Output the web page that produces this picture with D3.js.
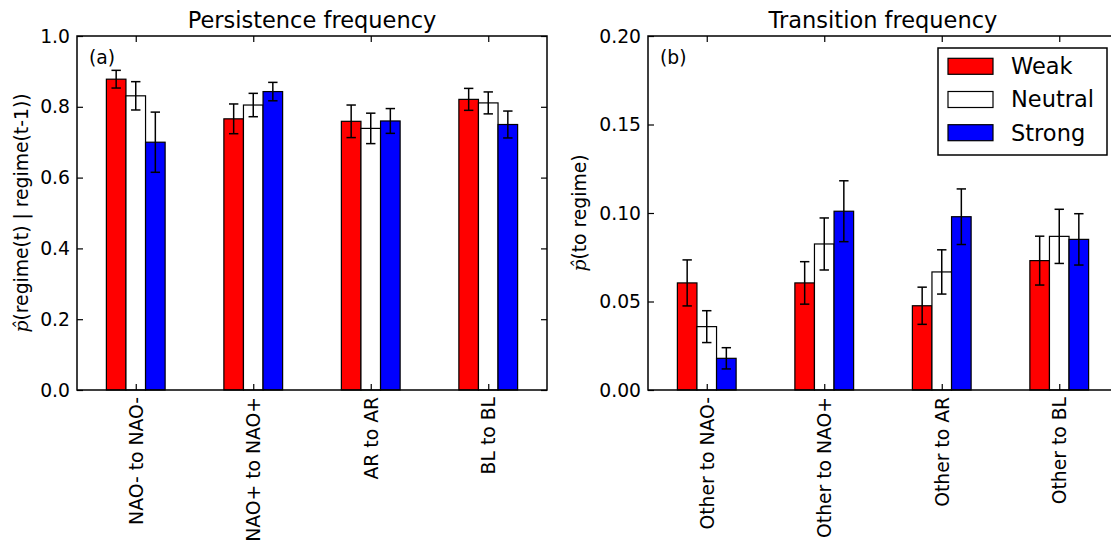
<!DOCTYPE html>
<html>
<head>
<meta charset="utf-8">
<script src="https://cdn.jsdelivr.net/npm/d3@7"></script>
<style>
  html, body { margin: 0; padding: 0; background: #fff; }
  svg { display: block; font-family: 'DejaVu Sans', sans-serif; }
</style>
</head>
<body>
<svg id="chart" width="1111" height="544"></svg>
<script>
// categories
const persistCategories = ['NAO- to NAO-', 'NAO+ to NAO+', 'AR to AR', 'BL to BL']
const transCategories = ['Other to NAO-', 'Other to NAO+', 'Other to AR', 'Other to BL']
const seriesNames = ['Weak', 'Neutral', 'Strong']
const seriesColors = ['#ff0000', '#ffffff', '#0000ff']

// persistence values and error half-widths
const persistWeak = [0.878, 0.766, 0.759, 0.821]
const persistWeakErr = [0.025, 0.042, 0.046, 0.031]
const persistNeutral = [0.831, 0.805, 0.739, 0.811]
const persistNeutralErr = [0.040, 0.033, 0.043, 0.031]
const persistStrong = [0.700, 0.843, 0.760, 0.750]
const persistStrongErr = [0.085, 0.026, 0.035, 0.038]

// transition values and error half-widths
const transWeak = [0.0605, 0.0605, 0.0476, 0.0731]
const transWeakErr = [0.013, 0.012, 0.0105, 0.0138]
const transNeutral = [0.0358, 0.0825, 0.0667, 0.0868]
const transNeutralErr = [0.009, 0.0147, 0.0125, 0.0153]
const transStrong = [0.0179, 0.101, 0.0979, 0.0851]
const transStrongErr = [0.006, 0.0172, 0.0157, 0.0145]

// tick values
const persistTicks = [0.0, 0.2, 0.4, 0.6, 0.8, 1.0]
const transTicks = [0.00, 0.05, 0.10, 0.15, 0.20]

const svg = d3.select('#chart')
const yTop = 36, yBottom = 390
const tickFont = 18.75
const bigFont = 22.5

function panel(opts) {
  const { left, right, categories, values, errors, yMax, ticks, fmt, title, tag, ylabel, ylabelX } = opts
  const x = d3.scaleLinear().domain([-0.5, 3.5]).range([left, right])
  const y = d3.scaleLinear().domain([0, yMax]).range([yBottom, yTop])
  const barW = 1 / 6

  const g = svg.append('g')

  // bars
  seriesNames.forEach((name, j) => {
    const rows = values[j].map((v, i) => ({ i, v, e: errors[j][i] }))
    g.append('g')
      .selectAll('rect')
      .data(rows)
      .join('rect')
      .attr('x', (d) => x(d.i - 0.25 + j * barW))
      .attr('y', (d) => y(d.v))
      .attr('width', (d) => x(d.i - 0.25 + (j + 1) * barW) - x(d.i - 0.25 + j * barW))
      .attr('height', (d) => y(0) - y(d.v))
      .attr('fill', seriesColors[j])
      .attr('stroke', '#000')
      .attr('stroke-width', 1.2)

    const eb = g.append('g').attr('stroke', '#000').attr('stroke-width', 1.5)
    eb.selectAll('line.v')
      .data(rows)
      .join('line')
      .attr('class', 'v')
      .attr('x1', (d) => x(d.i - 0.25 + (j + 0.5) * barW))
      .attr('x2', (d) => x(d.i - 0.25 + (j + 0.5) * barW))
      .attr('y1', (d) => y(d.v - d.e))
      .attr('y2', (d) => y(d.v + d.e))
    ;[-1, 1].forEach((s) => {
      eb.selectAll('line.c' + (s + 1))
        .data(rows)
        .join('line')
        .attr('class', 'c' + (s + 1))
        .attr('x1', (d) => x(d.i - 0.25 + (j + 0.5) * barW) - 4.7)
        .attr('x2', (d) => x(d.i - 0.25 + (j + 0.5) * barW) + 4.7)
        .attr('y1', (d) => y(d.v + s * d.e))
        .attr('y2', (d) => y(d.v + s * d.e))
    })
  })

  const styleAxis = (a) => {
    a.select('.domain').remove()
    a.selectAll('line').attr('stroke', '#000').attr('stroke-width', 1.2)
    a.selectAll('text').attr('fill', '#000')
    a.attr('font-family', "'DejaVu Sans', sans-serif").attr('font-size', tickFont)
  }

  g.append('g')
    .attr('transform', `translate(${left},0)`)
    .call(d3.axisLeft(y).tickValues(ticks).tickFormat(d3.format(fmt)).tickSize(-6).tickPadding(7))
    .call(styleAxis)
  g.append('g')
    .attr('transform', `translate(${right},0)`)
    .call(d3.axisRight(y).tickValues(ticks).tickFormat('').tickSize(-6))
    .call(styleAxis)
  g.append('g')
    .attr('transform', `translate(0,${yTop})`)
    .call(d3.axisTop(x).tickValues([0, 1, 2, 3]).tickFormat('').tickSize(-6))
    .call(styleAxis)
  const xb = g.append('g')
    .attr('transform', `translate(0,${yBottom})`)
    .call(d3.axisBottom(x).tickValues([0, 1, 2, 3]).tickFormat((i) => categories[i]).tickSize(-6))
    .call(styleAxis)
  xb.selectAll('text')
    .attr('transform', 'rotate(-90)')
    .attr('text-anchor', 'end')
    .attr('x', -7)
    .attr('y', 0)
    .attr('dy', '0.35em')

  // frame
  g.append('rect')
    .attr('x', left).attr('y', yTop)
    .attr('width', right - left).attr('height', yBottom - yTop)
    .attr('fill', 'none').attr('stroke', '#000').attr('stroke-width', 1.5)

  g.append('text')
    .attr('x', (left + right) / 2).attr('y', 28)
    .attr('text-anchor', 'middle')
    .attr('font-size', bigFont)
    .text(title)

  g.append('text')
    .attr('x', left + 12).attr('y', 64)
    .attr('font-size', tickFont)
    .text(tag)

  const yl = g.append('text')
    .attr('transform', `translate(${ylabelX},${(yTop + yBottom) / 2}) rotate(-90)`)
    .attr('text-anchor', 'middle')
    .attr('font-size', tickFont)
  yl.append('tspan')
    .attr('font-family', "'DejaVu Serif', serif")
    .attr('font-style', 'italic')
    .text('p\u0302')
  yl.append('tspan').text(ylabel)

  return { x, y }
}

panel({
  left: 77, right: 547,
  categories: persistCategories,
  values: [persistWeak, persistNeutral, persistStrong],
  errors: [persistWeakErr, persistNeutralErr, persistStrongErr],
  yMax: 1.0, ticks: persistTicks, fmt: '.1f',
  title: 'Persistence frequency', tag: '(a)',
  ylabel: '(regime(t) | regime(t-1))', ylabelX: 28
})

const rightEdge = 1118
panel({
  left: 648, right: rightEdge,
  categories: transCategories,
  values: [transWeak, transNeutral, transStrong],
  errors: [transWeakErr, transNeutralErr, transStrongErr],
  yMax: 0.2, ticks: transTicks, fmt: '.2f',
  title: 'Transition frequency', tag: '(b)',
  ylabel: '(to regime)', ylabelX: 586
})

// legend
const lg = svg.append('g')
const lgRight = rightEdge - 11, lgTop = 48, rowH = 33.2
lg.append('rect')
  .attr('x', 938).attr('y', lgTop)
  .attr('width', lgRight - 938).attr('height', 107)
  .attr('fill', '#fff').attr('stroke', '#000').attr('stroke-width', 1.5)
const items = lg.selectAll('g.item')
  .data(seriesNames)
  .join('g')
  .attr('class', 'item')
  .attr('transform', (d, i) => `translate(948,${lgTop + 18.3 + i * rowH})`)
items.append('rect')
  .attr('x', 0).attr('y', -8)
  .attr('width', 45).attr('height', 16)
  .attr('fill', (d, i) => seriesColors[i])
  .attr('stroke', '#000').attr('stroke-width', 1.2)
items.append('text')
  .attr('x', 63).attr('y', 0)
  .attr('dy', '0.35em')
  .attr('font-size', bigFont)
  .text((d) => d)
</script>
</body>
</html>
